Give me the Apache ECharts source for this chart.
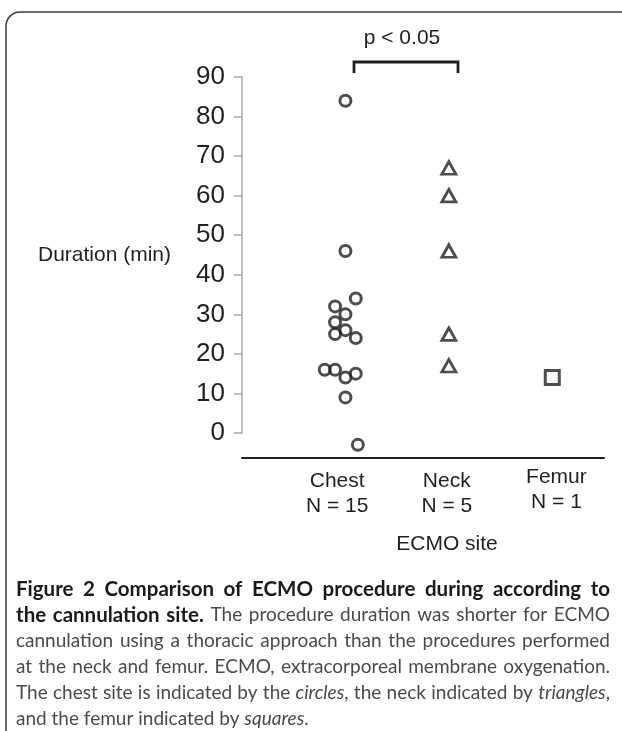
<!DOCTYPE html>
<html><head><meta charset="utf-8">
<script src="https://cdn.jsdelivr.net/npm/echarts@6/dist/echarts.min.js"></script>
<style>html,body{margin:0;padding:0;background:#fff}#c{width:622px;height:731px}</style>
</head><body><div id="c"></div>
<script>
// ---- data ----
const categories = ['Chest', 'Neck', 'Femur'];
const categoryN = [15, 5, 1];
const chestValues = [84, 46, 34, 32, 30, 28, 26, 25, 24, 16, 16, 15, 14, 9, -3];
const chestX = [1.0, 1.0, 1.1, 0.9, 1.0, 0.9, 1.0, 0.9, 1.1, 0.8, 0.9, 1.1, 1.0, 1.0, 1.12];
const neckValues = [67, 60, 46, 25, 17];
const femurValues = [14];
const yMin = 0, yMax = 90, yStep = 10;
const xLabelAt = [0.92, 1.98, 3.04];

// ---- caption (style key, text) ----
const captionLines = [
  [['b', 'Figure 2 Comparison of ECMO procedure during according to']],
  [['b', 'the cannulation site.'], ['r', ' The procedure duration was shorter for ECMO']],
  [['r', 'cannulation using a thoracic approach than the procedures performed']],
  [['r', 'at the neck and femur. ECMO, extracorporeal membrane oxygenation.']],
  [['r', 'The chest site is indicated by the '], ['i', 'circles'], ['r', ', the neck indicated by '], ['i', 'triangles'], ['r', ',']],
  [['r', 'and the femur indicated by '], ['i', 'squares'], ['r', '.']]
];

const ink = '#231f20';
const font = 'Liberation Sans';
const capSize = 19, capBoldSize = 20.5, capLH = 26, capWidth = 594;
const capFonts = {
  b: 'bold ' + capBoldSize + 'px Lato',
  r: capSize + 'px Lato',
  i: 'italic ' + capSize + 'px Lato'
};
const richBase = {
  b: {fontFamily: 'Lato', fontWeight: 'bold', fontSize: capBoldSize, fill: '#1a1a1a', lineHeight: capLH},
  r: {fontFamily: 'Lato', fontSize: capSize, fill: '#4a4a4a', lineHeight: capLH},
  i: {fontFamily: 'Lato', fontStyle: 'italic', fontSize: capSize, fill: '#4a4a4a', lineHeight: capLH}
};

function buildCaption() {
  const ctx = document.createElement('canvas').getContext('2d');
  const rich = Object.assign({}, richBase);
  const out = [];
  captionLines.forEach((segs, li) => {
    const words = [];
    let cur = null;
    segs.forEach(([st, txt]) => {
      const parts = txt.split(' ');
      parts.forEach((p, pi) => {
        if (pi > 0) { if (cur) words.push(cur); cur = null; }
        if (p.length) {
          if (!cur) cur = [];
          cur.push([st, p]);
        }
      });
    });
    if (cur) words.push(cur);
    const last = li === captionLines.length - 1;
    let total = 0;
    words.forEach(w => w.forEach(([st, t]) => { ctx.font = capFonts[st]; total += ctx.measureText(t).width; }));
    ctx.font = capFonts.r;
    const natural = ctx.measureText(' ').width;
    const gap = last ? natural : Math.max(natural * 0.8, (capWidth - total) / (words.length - 1));
    const key = 's' + li;
    rich[key] = {width: gap, fontSize: capSize, fontFamily: 'Lato', lineHeight: capLH};
    out.push(words.map(w => w.map(([st, t]) => '{' + st + '|' + t + '}').join('')).join('{' + key + '| }'));
  });
  return {text: out.join('\n'), rich};
}
const cap = buildCaption();

const chart = echarts.init(document.getElementById('c'), null, {renderer: 'canvas'});
const markerStyle = (w) => ({color: 'rgba(0,0,0,0)', borderColor: ink, borderWidth: w});
const lblBase = {fontSize: 21, color: ink, fontFamily: font};

chart.setOption({
  animation: false,
  backgroundColor: '#fff',
  grid: {left: 242, right: 18, top: 77, bottom: 298, containLabel: false},
  xAxis: {
    type: 'value', min: 0, max: 3.5, offset: 25,
    axisLine: {show: true, onZero: false, lineStyle: {color: ink, width: 2}},
    axisTick: {show: false},
    splitLine: {show: false},
    axisLabel: {
      customValues: xLabelAt,
      formatter: v => {
        const i = Math.round(v) - 1;
        return i === 2
          ? '{f|' + categories[i] + '}\n{f|N = ' + categoryN[i] + '}'
          : '{a|' + categories[i] + '}\n{c|N = ' + categoryN[i] + '}';
      },
      fontSize: 21, color: ink, fontFamily: font, margin: 7,
      rich: {
        a: Object.assign({lineHeight: 33}, lblBase),
        c: Object.assign({lineHeight: 17}, lblBase),
        f: Object.assign({lineHeight: 25}, lblBase)
      }
    },
    name: 'ECMO site', nameLocation: 'middle', nameGap: 76,
    nameTextStyle: {fontSize: 21, color: ink, fontFamily: font, padding: [0, 0, 0, 48]}
  },
  yAxis: {
    type: 'value', min: yMin, max: yMax, interval: yStep,
    axisLine: {show: true, lineStyle: {color: '#a7a9ac', width: 1.5}},
    axisTick: {show: true, length: 8, lineStyle: {color: '#a7a9ac', width: 1.5}},
    splitLine: {show: false},
    axisLabel: {fontSize: 26, color: ink, fontFamily: font, margin: 17},
    name: 'Duration (min)', nameLocation: 'middle', nameRotate: 0, nameGap: 71,
    nameTextStyle: {fontSize: 21, color: ink, fontFamily: font}
  },
  series: [
    {type: 'scatter', clip: false, silent: true, symbol: 'circle', symbolSize: 11,
     itemStyle: markerStyle(3),
     data: chestValues.map((v, i) => [chestX[i], v])},
    {type: 'scatter', clip: false, silent: true, symbol: 'triangle', symbolSize: [14, 12.5],
     itemStyle: markerStyle(2.8),
     data: neckValues.map(v => [2, v])},
    {type: 'scatter', clip: false, silent: true, symbol: 'rect', symbolSize: 14,
     itemStyle: markerStyle(3),
     data: femurValues.map(v => [3, v])}
  ],
  graphic: [
    {type: 'rect', silent: true, shape: {x: 6, y: 12, width: 700, height: 800, r: 14},
     style: {fill: 'none', stroke: '#3a3a3a', lineWidth: 1.5}},
    {type: 'text', x: 402, y: 38, silent: true,
     style: {text: 'p < 0.05', fontSize: 21, fontFamily: font, fill: ink, align: 'center', verticalAlign: 'middle'}},
    {type: 'polyline', silent: true, shape: {points: [[354, 73], [354, 62], [458, 62], [458, 73]]},
     style: {fill: 'none', stroke: ink, lineWidth: 2.8}},
    {type: 'text', x: 16, y: 576, silent: true,
     style: {text: cap.text, rich: cap.rich}}
  ]
});
</script>
</body></html>
